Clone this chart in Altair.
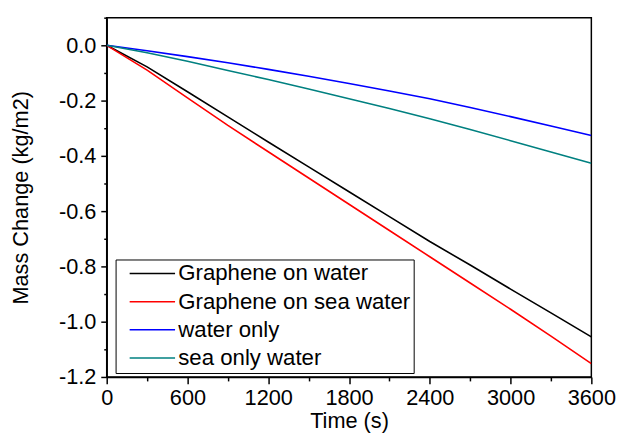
import altair as alt
import pandas as pd

times = [0, 300, 600, 900, 1200, 1500, 1800, 2100, 2400, 2700, 3000, 3300, 3600]
series_names = ["Graphene on water", "Graphene on sea water", "water only", "sea only water"]
graphene_water = [0.0, -0.078, -0.168, -0.259, -0.35, -0.44, -0.53, -0.62, -0.71, -0.795, -0.882, -0.968, -1.055]
graphene_sea = [0.0, -0.09, -0.19, -0.29, -0.385, -0.48, -0.575, -0.67, -0.765, -0.86, -0.955, -1.052, -1.152]
water_only = [0.0, -0.02, -0.041, -0.063, -0.087, -0.112, -0.138, -0.165, -0.193, -0.225, -0.258, -0.292, -0.326]
sea_only = [0.0, -0.027, -0.058, -0.091, -0.124, -0.158, -0.193, -0.229, -0.266, -0.305, -0.345, -0.386, -0.427]
colors = ["#000000", "#ff0000", "#0000ff", "#008080"]

x_ticks = list(range(0, 3601, 300))
y_ticks = [round(-1.2 + 0.1 * i, 1) for i in range(14)]

rows = []
for name, vals in zip(series_names, [graphene_water, graphene_sea, water_only, sea_only]):
    for t, v in zip(times, vals):
        rows.append({"Time": t, "Mass": v, "Series": name})
df = pd.DataFrame(rows)

FONT = "Liberation Sans"

chart = alt.Chart(df).mark_line(strokeWidth=1.6, clip=True).encode(
    x=alt.X("Time:Q", scale=alt.Scale(domain=[0, 3600], nice=False, zero=False),
            axis=alt.Axis(title="Time (s)", values=x_ticks, grid=False,
                          labelExpr="datum.value % 600 === 0 ? '' + datum.value : ''",
                          labelFlush=False, labelOverlap=False,
                          tickSize={"condition": {"test": "datum.value % 600 === 0", "value": 7}, "value": 4},
                          labelPadding=4, titlePadding=2)),
    y=alt.Y("Mass:Q", scale=alt.Scale(domain=[-1.2, 0.1], nice=False, zero=False),
            axis=alt.Axis(title="Mass Change (kg/m2)", values=y_ticks, grid=False,
                          labelExpr="round(datum.value*10) % 2 === 0 ? replace(format(datum.value, '.1f'), '\u2212', '-') : ''",
                          labelOverlap=False,
                          tickSize={"condition": {"test": "round(datum.value*10) % 2 === 0", "value": 6}, "value": 3},
                          labelPadding=5, titlePadding=26)),
    color=alt.Color("Series:N", scale=alt.Scale(domain=series_names, range=colors),
                    sort=series_names,
                    legend=alt.Legend(title=None, orient="none", legendX=9, legendY=245,
                                      symbolType="M0,0H46", symbolSize=4, symbolStrokeWidth=1.6,
                                      labelFontSize=22.5, labelFont=FONT, labelColor="black",
                                      labelOffset=38, rowPadding=5.5, padding=3,
                                      strokeColor="black", fillColor="white", labelLimit=400)),
).properties(
    width=491, height=364,
    padding={"left": 100, "top": 7, "right": 27, "bottom": 56},
    autosize=alt.AutoSizeParams(type="none"),
).configure_view(
    stroke="black", strokeWidth=1.5
).configure_axis(
    labelFont=FONT, titleFont=FONT, labelFontSize=22, titleFontSize=22,
    labelColor="black", titleColor="black", titleFontWeight="normal",
    domainColor="black", domainWidth=1.5, tickColor="black", tickWidth=1.5,
)

chart.save("out.html", embed_options={"renderer": "svg", "actions": False})
